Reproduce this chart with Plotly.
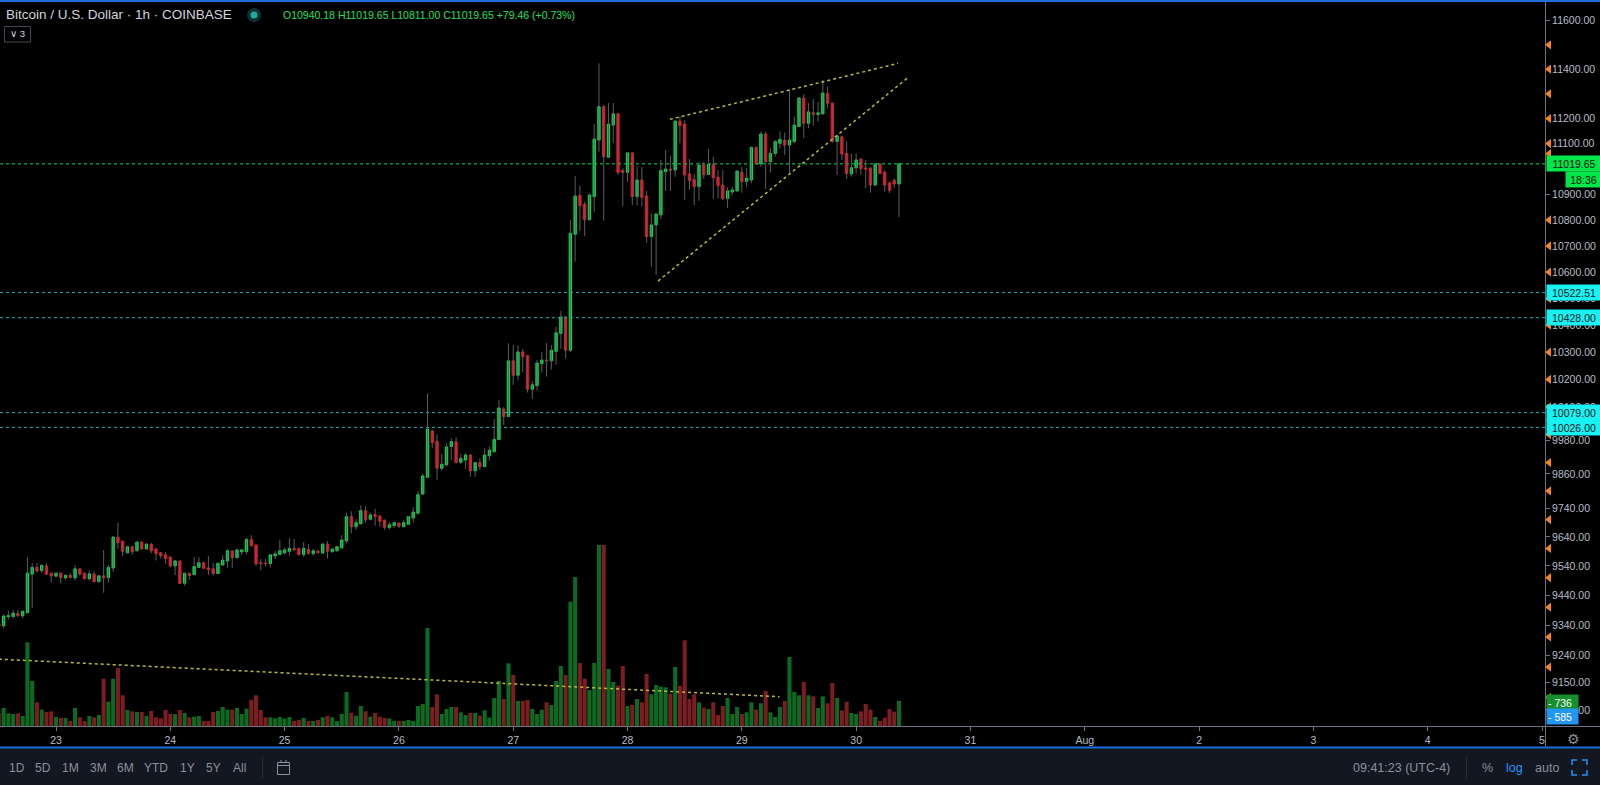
import math
import pandas as pd
import plotly.graph_objects as go

# ---------------- data (hourly BTC/USD, Coinbase) ----------------
start_time = "2019-07-22 12:00"
opens = [9344, 9337, 9368, 9368, 9379, 9371, 9381, 9512, 9535, 9524, 9540, 9515,
         9505, 9515, 9499, 9508, 9499, 9530, 9515, 9496, 9512, 9486, 9506, 9500,
         9533, 9639, 9625, 9585, 9606, 9592, 9622, 9598, 9615, 9598, 9585, 9578,
         9570, 9540, 9557, 9481, 9515, 9510, 9535, 9551, 9533, 9530, 9514, 9543,
         9557, 9591, 9568, 9588, 9589, 9631, 9612, 9551, 9550, 9548, 9574, 9579,
         9585, 9590, 9600, 9599, 9579, 9597, 9582, 9591, 9584, 9615, 9589, 9592,
         9602, 9626, 9710, 9675, 9685, 9731, 9701, 9717, 9712, 9698, 9672, 9679,
         9688, 9675, 9684, 9705, 9722, 9789, 9848, 10013, 9976, 9880, 9892, 9957,
         9974, 9901, 9909, 9927, 9871, 9900, 9886, 9924, 9939, 9982, 10092, 10065,
         10268, 10215, 10301, 10287, 10164, 10177, 10258, 10271, 10268, 10303, 10369, 10431,
         10307, 10745, 10896, 10861, 10801, 10891, 11114, 11248, 11046, 11174, 11219, 10993,
         10986, 11063, 10891, 10956, 10893, 10736, 10781, 10820, 10989, 10999, 10995, 11190,
         11178, 10980, 10957, 10930, 11015, 10978, 11018, 10967, 10936, 10884, 10909, 10913,
         10986, 10951, 10956, 11085, 11019, 11138, 11028, 11061, 11101, 11113, 11094, 11108,
         11168, 11283, 11181, 11223, 11216, 11219, 11302, 11262, 11108, 11127, 11061, 10980,
         11004, 11038, 11003, 11002, 10936, 11019, 10986, 10944, 10955, 10940.18]
highs = [9350, 9376, 9387, 9390, 9390, 9388, 9570, 9549, 9549, 9544, 9549, 9517,
         9517, 9517, 9510, 9515, 9542, 9532, 9517, 9525, 9520, 9508, 9595, 9543,
         9643, 9689, 9627, 9609, 9609, 9625, 9625, 9618, 9618, 9602, 9588, 9588,
         9574, 9560, 9558, 9517, 9517, 9571, 9570, 9554, 9574, 9550, 9551, 9577,
         9598, 9594, 9600, 9600, 9636, 9646, 9613, 9564, 9565, 9581, 9591, 9629,
         9602, 9636, 9632, 9604, 9622, 9615, 9599, 9594, 9619, 9625, 9600, 9609,
         9646, 9724, 9729, 9701, 9750, 9747, 9723, 9737, 9716, 9700, 9691, 9694,
         9690, 9698, 9712, 9743, 9800, 9862, 10149, 10017, 10001, 9930, 9969, 9987,
         9991, 9931, 9935, 9930, 9903, 9915, 9951, 9957, 10056, 10125, 10099, 10333,
         10326, 10326, 10311, 10290, 10194, 10271, 10301, 10334, 10326, 10394, 10453, 10434,
         10800, 10972, 10934, 10871, 10904, 11177, 11424, 11255, 11262, 11262, 11221, 11002,
         11065, 11065, 11011, 11008, 10913, 10826, 10824, 11035, 11075, 11052, 11193, 11208,
         11194, 11039, 10980, 11028, 11028, 11079, 11048, 10995, 10995, 10927, 10929, 10995,
         11008, 11002, 11088, 11088, 11148, 11148, 11081, 11114, 11148, 11144, 11318, 11208,
         11286, 11298, 11262, 11280, 11266, 11356, 11329, 11264, 11134, 11130, 11108, 11059,
         11061, 11042, 11035, 11008, 11022, 11022, 10995, 10950, 10962, 11019.65]
lows = [9330, 9329, 9359, 9363, 9368, 9363, 9379, 9398, 9517, 9515, 9509, 9484,
        9503, 9480, 9493, 9499, 9490, 9508, 9495, 9490, 9485, 9485, 9449, 9483,
        9520, 9599, 9574, 9583, 9579, 9590, 9597, 9597, 9583, 9559, 9565, 9548,
        9535, 9508, 9479, 9473, 9492, 9509, 9533, 9531, 9509, 9507, 9513, 9540,
        9533, 9533, 9566, 9577, 9579, 9607, 9540, 9525, 9538, 9535, 9564, 9577,
        9579, 9575, 9592, 9575, 9571, 9580, 9575, 9583, 9582, 9565, 9585, 9589,
        9600, 9618, 9652, 9664, 9684, 9688, 9697, 9679, 9675, 9664, 9666, 9671,
        9671, 9674, 9682, 9690, 9717, 9785, 9845, 9951, 9839, 9871, 9886, 9909,
        9898, 9895, 9878, 9850, 9850, 9874, 9883, 9907, 9935, 9981, 10035, 10063,
        10180, 10198, 10225, 10152, 10129, 10159, 10225, 10210, 10236, 10254, 10312, 10276,
        10300, 10640, 10758, 10738, 10797, 10830, 11068, 10797, 11044, 11101, 10976, 10854,
        10949, 10858, 10856, 10852, 10712, 10620, 10589, 10803, 10913, 10913, 10969, 11101,
        10878, 10917, 10858, 10875, 10960, 10976, 10882, 10884, 10878, 10846, 10897, 10910,
        10906, 10930, 10943, 11015, 11008, 10920, 10985, 11048, 11081, 11055, 10982, 11101,
        11165, 11121, 11161, 11172, 11188, 11215, 11242, 11104, 10976, 11035, 10960, 10969,
        10982, 10976, 10924, 10906, 10936, 10980, 10910, 10905, 10925, 10811.00]
closes = [9335, 9370, 9371, 9380, 9371, 9386, 9515, 9535, 9523, 9542, 9512, 9506,
          9515, 9500, 9508, 9500, 9530, 9512, 9496, 9513, 9486, 9506, 9500, 9535,
          9639, 9620, 9590, 9606, 9589, 9622, 9598, 9615, 9592, 9583, 9575, 9565,
          9540, 9557, 9480, 9515, 9507, 9538, 9551, 9532, 9527, 9514, 9549, 9560,
          9592, 9568, 9595, 9595, 9631, 9609, 9548, 9548, 9548, 9578, 9581, 9592,
          9595, 9600, 9595, 9579, 9600, 9582, 9592, 9585, 9615, 9590, 9598, 9606,
          9629, 9710, 9675, 9689, 9731, 9699, 9716, 9711, 9694, 9673, 9682, 9689,
          9676, 9689, 9710, 9726, 9787, 9853, 10020, 9971, 9880, 9894, 9956, 9975,
          9900, 9915, 9927, 9871, 9900, 9886, 9927, 9944, 9983, 10096, 10065, 10268,
          10215, 10301, 10283, 10164, 10180, 10260, 10271, 10268, 10307, 10372, 10431, 10307,
          10749, 10893, 10856, 10801, 10897, 11118, 11248, 11048, 11178, 11219, 10986, 10986,
          11063, 10891, 10956, 10888, 10736, 10781, 10823, 10993, 10999, 10995, 11190, 11172,
          10976, 10953, 10930, 11015, 10978, 11018, 10965, 10934, 10884, 10913, 10917, 10991,
          10949, 10963, 11085, 11019, 11138, 11028, 11061, 11108, 11117, 11094, 11114, 11174,
          11283, 11181, 11227, 11216, 11223, 11303, 11262, 11108, 11130, 11059, 10982, 11004,
          11035, 11000, 10999, 10936, 11019, 10982, 10936, 10915, 10940.19, 11019.65]
volumes = [373, 529, 373, 353, 373, 294, 2461, 1323, 697, 480,
           412, 431, 265, 235, 235, 150, 529, 255, 150, 294,
           255, 323, 1391, 714, 1391, 1705, 902, 470, 431, 412,
           412, 294, 441, 255, 226, 470, 353, 353, 470, 382,
           255, 274, 294, 150, 150, 412, 441, 559, 480, 480,
           529, 353, 510, 764, 902, 470, 255, 255, 226, 265,
           218, 265, 150, 180, 235, 150, 150, 180, 255, 294,
           255, 150, 353, 1000, 392, 304, 588, 431, 274, 382,
           274, 235, 218, 150, 150, 150, 180, 150, 588,
           647, 2881, 559, 931, 353, 500, 559, 559, 402, 323,
           382, 382, 304, 461, 245, 823, 1323, 794, 1843, 1499,
           735, 735, 764, 500, 353, 480, 697, 617, 1323, 1764,
           1499, 3655, 4381, 1852, 1391, 1058, 1852, 5321, 5321, 1676,
           1294, 1185, 1764, 588, 617, 794, 697, 1529, 931, 1205,
           1156, 1137, 950, 1735, 1185, 2519, 794, 931, 697, 539,
           500, 697, 323, 588, 823, 353, 559, 353, 402, 697,
           480, 667, 1029, 402, 265, 559, 735, 2029, 1000, 902,
           1294, 902, 873, 529, 873, 667, 1264, 823, 461, 714,
           382, 353, 431, 647, 480, 265, 147, 245, 500,
           420, 736]

# horizontal levels
last_price = 11019.65
level_prices = [10522.51, 10428.00, 10079.00, 10026.00]
# wedge trend lines (time, price)
wedge_upper_t = ["2019-07-28 08:54", "2019-07-30 08:48"]
wedge_upper_p = [11197, 11424]
wedge_lower_t = ["2019-07-28 06:24", "2019-07-30 10:54"]
wedge_lower_p = [10566, 11366]
# volume trend line (time, volume)
vol_line_t = ["2019-07-22 12:00", "2019-07-29 07:54"]
vol_line_v = [1965, 861]
# alert markers on the price scale
alert_prices = [9100, 9200, 9300, 9400, 9500, 9600, 9700, 9800, 9900, 10000,
                10100, 10200, 10300, 10400, 10500, 10600, 10700, 10800,
                11060, 11100, 11200, 11300, 11400, 11500]
price_ticks = [9060, 9150, 9240, 9340, 9440, 9540, 9640, 9740, 9860, 9980,
               10100, 10200, 10300, 10400, 10500, 10600, 10700, 10800, 10900,
               11100, 11200, 11400, 11600]
day_ticks = pd.date_range("2019-07-23", "2019-08-05", freq="D")
day_labels = ["23", "24", "25", "26", "27", "28", "29", "30", "31", "Aug", "2", "3", "4", "5"]
vol_last, vol_ma = 736, 585
countdown = "18:36"

# ---------------- styles ----------------
W, H = 1600, 785
GREEN = "#00e64b"
RED = "#f01020"
WICK = "#5a5c63"
VGREEN = "#0b6b22"
VRED = "#7c1e21"
CYAN_LINE = "#1fb0c0"
CYAN_LABEL = "#19f2f2"
YELLOW = "#b9b93a"
ORANGE = "#f7821b"
AXIS = "#6f7380"
TXT = "#b8bcc6"
FONT = "Liberation Sans"

def px(x):
    return x / W

def py(y):
    return 1 - y / H

times = pd.date_range(start_time, periods=len(opens), freq="h")
x_range = ["2019-07-22 12:14:30", "2019-08-05 00:37:48"]
y_log_range = [3.954617, 4.067217]
xdom = [0, px(1545)]
ydom = [py(726), py(3)]

fig = go.Figure()

# volume bars (base y axis, linear)
vol_colors = [VGREEN if c >= o else VRED for o, c in zip(opens, closes)]
fig.add_trace(go.Bar(x=times, y=volumes, marker=dict(color=vol_colors, line=dict(width=0)),
                     xaxis="x", yaxis="y", hoverinfo="skip"))
fig.add_trace(go.Scatter(x=pd.to_datetime(vol_line_t), y=vol_line_v, mode="lines",
                         line=dict(color=YELLOW, width=1.5, dash="dot"),
                         xaxis="x", yaxis="y", hoverinfo="skip"))

# horizontal levels on price axis
for lv in level_prices:
    fig.add_trace(go.Scatter(x=x_range, y=[lv, lv], mode="lines",
                             line=dict(color=CYAN_LINE, width=1, dash="dot"),
                             xaxis="x", yaxis="y2", hoverinfo="skip"))
fig.add_trace(go.Scatter(x=x_range, y=[last_price, last_price], mode="lines",
                         line=dict(color=GREEN, width=1, dash="dot"),
                         xaxis="x", yaxis="y2", hoverinfo="skip"))

# wicks
wx, wy = [], []
for t, lo, hi in zip(times, lows, highs):
    wx += [t, t, None]
    wy += [lo, hi, None]
fig.add_trace(go.Scatter(x=wx, y=wy, mode="lines", line=dict(color=WICK, width=1),
                         xaxis="x", yaxis="y2", hoverinfo="skip", connectgaps=False))

# bodies
body_hi = [max(o, c) for o, c in zip(opens, closes)]
body_lo = [min(o, c) for o, c in zip(opens, closes)]
fig.add_trace(go.Candlestick(x=times, open=opens, high=body_hi, low=body_lo, close=closes,
                             increasing=dict(fillcolor=GREEN, line=dict(color=GREEN, width=1)),
                             decreasing=dict(fillcolor=RED, line=dict(color=RED, width=1)),
                             whiskerwidth=0, xaxis="x", yaxis="y2", hoverinfo="skip"))

# wedge lines
fig.add_trace(go.Scatter(x=pd.to_datetime(wedge_upper_t), y=wedge_upper_p, mode="lines",
                         line=dict(color=YELLOW, width=1.5, dash="dot"),
                         xaxis="x", yaxis="y2", hoverinfo="skip"))
fig.add_trace(go.Scatter(x=pd.to_datetime(wedge_lower_t), y=wedge_lower_p, mode="lines",
                         line=dict(color=YELLOW, width=1.5, dash="dot"),
                         xaxis="x", yaxis="y2", hoverinfo="skip"))

# alert triangles on the price scale strip
fig.add_trace(go.Scatter(x=[4] * len(alert_prices), y=alert_prices, mode="markers",
                         marker=dict(symbol="triangle-left", size=8, color=ORANGE),
                         xaxis="x2", yaxis="y3", cliponaxis=False, hoverinfo="skip"))

shapes = []
# top blue border
shapes.append(dict(type="rect", xref="paper", yref="paper", x0=0, x1=1, y0=py(2), y1=1,
                   fillcolor="#1e6fd9", line=dict(width=0), layer="above"))
# bottom toolbar
shapes.append(dict(type="rect", xref="paper", yref="paper", x0=0, x1=1, y0=0, y1=py(748.5),
                   fillcolor="#131722", line=dict(width=0), layer="below"))
shapes.append(dict(type="rect", xref="paper", yref="paper", x0=0, x1=1, y0=py(748.5), y1=py(746.5),
                   fillcolor="#1e6fd9", line=dict(width=0), layer="above"))
# axes lines
shapes.append(dict(type="line", xref="paper", yref="paper", x0=0, x1=1, y0=py(726.5), y1=py(726.5),
                   line=dict(color=AXIS, width=1), layer="above"))
shapes.append(dict(type="line", xref="paper", yref="paper", x0=px(1545.5), x1=px(1545.5), y0=py(746.5), y1=py(2),
                   line=dict(color=AXIS, width=1), layer="above"))
# toolbar separators
for sx in (262.5, 1466.5):
    shapes.append(dict(type="line", xref="paper", yref="paper", x0=px(sx), x1=px(sx), y0=py(757), y1=py(778),
                       line=dict(color="#2a2e39", width=1)))
# header dot
shapes.append(dict(type="circle", xref="paper", yref="paper", x0=px(247), x1=px(261), y0=py(22), y1=py(8),
                   fillcolor="#0d3330", line=dict(width=0)))
shapes.append(dict(type="circle", xref="paper", yref="paper", x0=px(250.5), x1=px(257.5), y0=py(18.5), y1=py(11.5),
                   fillcolor="#22a89c", line=dict(width=0)))
# "v 3" box
shapes.append(dict(type="rect", xref="paper", yref="paper", x0=px(4.5), x1=px(30.5), y0=py(42), y1=py(26.5),
                   line=dict(color="#434651", width=1), fillcolor="rgba(0,0,0,0)"))
# calendar icon
shapes.append(dict(type="rect", xref="paper", yref="paper", x0=px(277.5), x1=px(289.5), y0=py(774.5), y1=py(762.5),
                   line=dict(color="#8c909c", width=1), fillcolor="rgba(0,0,0,0)"))
shapes.append(dict(type="line", xref="paper", yref="paper", x0=px(277.5), x1=px(289.5), y0=py(765.5), y1=py(765.5),
                   line=dict(color="#8c909c", width=1)))
for cx in (281, 286):
    shapes.append(dict(type="line", xref="paper", yref="paper", x0=px(cx), x1=px(cx), y0=py(763), y1=py(760),
                       line=dict(color="#8c909c", width=1)))
# fullscreen icon corners
def corner_path(pts):
    return "M" + " L".join(f"{px(a)},{py(b)}" for a, b in pts)
for pts in ([(1572, 765), (1572, 760), (1577, 760)],
            [(1582, 760), (1587, 760), (1587, 765)],
            [(1587, 770), (1587, 775), (1582, 775)],
            [(1577, 775), (1572, 775), (1572, 770)]):
    shapes.append(dict(type="path", xref="paper", yref="paper", path=corner_path(pts),
                       line=dict(color="#2196f3", width=1.5)))

annotations = []
def ann(text, x, y, size=12, color=TXT, xanchor="left", yref="paper", **kw):
    d = dict(text=text, x=x, y=y, xref="paper", yref=yref, xanchor=xanchor, yanchor="middle",
             showarrow=False, font=dict(family=FONT, size=size, color=color))
    d.update(kw)
    annotations.append(d)

ann("Bitcoin / U.S. Dollar · 1h · COINBASE", px(4), py(15), size=13.5, color="#d1d4dc")
chg = closes[-1] - closes[-2]
ohlc_text = (f"O{opens[-1]:.2f} H{highs[-1]:.2f} L{lows[-1]:.2f} C{closes[-1]:.2f} "
             f"+{chg:.2f} (+{chg / closes[-2] * 100:.2f}%)")
ann(ohlc_text, px(281), py(15), size=10.5, color="#22e05c")
ann("∨ 3", px(17.5), py(34), size=9.5, color="#d1d4dc", xanchor="center")

# price scale labels
ann(f"{last_price:.2f}", px(1546), math.log10(last_price), size=10.5, color="#061006", yref="y2",
    bgcolor=GREEN, width=52, height=13, align="center")
ann(countdown, px(1565), py(180), size=10.5, color="#061006",
    bgcolor=GREEN, width=33, height=13, align="center")
for lv in level_prices:
    ann(f"{lv:.2f}", px(1546), math.log10(lv), size=10.5, color="#0a1a1e", yref="y2",
        bgcolor=CYAN_LABEL, width=52, height=13, align="center")
ann(f"- {vol_last}", px(1546), py(702), size=10.5, color="#ffffff",
    bgcolor="#16902f", width=29, height=13, align="left")
ann(f"- {vol_ma}", px(1546), py(716.5), size=10.5, color="#ffffff",
    bgcolor="#2196f3", width=29, height=13, align="left")
ann("⚙", px(1573), py(739), size=14, color="#8c909c", xanchor="center")

# bottom toolbar
for lab, cx in zip(["1D", "5D", "1M", "3M", "6M", "YTD", "1Y", "5Y", "All"],
                   [17, 43, 70, 98, 125, 156, 187, 213, 239]):
    ann(lab, px(cx), py(767.5), size=12, color="#8c909c", xanchor="center")
ann("09:41:23 (UTC-4)", px(1452), py(767.5), size=12.5, color="#8c909c", xanchor="right")
ann("%", px(1487), py(767.5), size=12.5, color="#8c909c", xanchor="center")
ann("log", px(1514), py(767.5), size=12.5, color="#2196f3", xanchor="center")
ann("auto", px(1547), py(767.5), size=12.5, color="#8c909c", xanchor="center")

fig.update_layout(
    width=W, height=H, margin=dict(l=0, r=0, t=0, b=0),
    paper_bgcolor="#000000", plot_bgcolor="#000000",
    showlegend=False, bargap=0.15, boxgap=0.3, hovermode=False,
    xaxis=dict(domain=xdom, type="date", range=x_range, rangeslider=dict(visible=False),
               showgrid=False, zeroline=False, showline=False,
               tickmode="array", tickvals=day_ticks, ticktext=day_labels,
               ticks="outside", ticklen=4, tickcolor=AXIS,
               tickfont=dict(family=FONT, size=10.5, color=TXT), anchor="y"),
    yaxis=dict(domain=ydom, range=[0, 21256], visible=False, fixedrange=True),
    yaxis2=dict(overlaying="y", side="right", anchor="x", type="log", range=y_log_range,
                showgrid=False, zeroline=False, showline=False,
                tickmode="array", tickvals=price_ticks, ticktext=[f"{v:.2f}" for v in price_ticks],
                ticks="outside", ticklen=4, tickcolor=AXIS,
                tickfont=dict(family=FONT, size=10.5, color=TXT)),
    xaxis2=dict(domain=[px(1545), 1], range=[0, 55], visible=False, anchor="y3"),
    yaxis3=dict(domain=ydom, type="log", range=y_log_range, visible=False, anchor="x2"),
    shapes=shapes, annotations=annotations,
)

fig.write_html("out.html")
